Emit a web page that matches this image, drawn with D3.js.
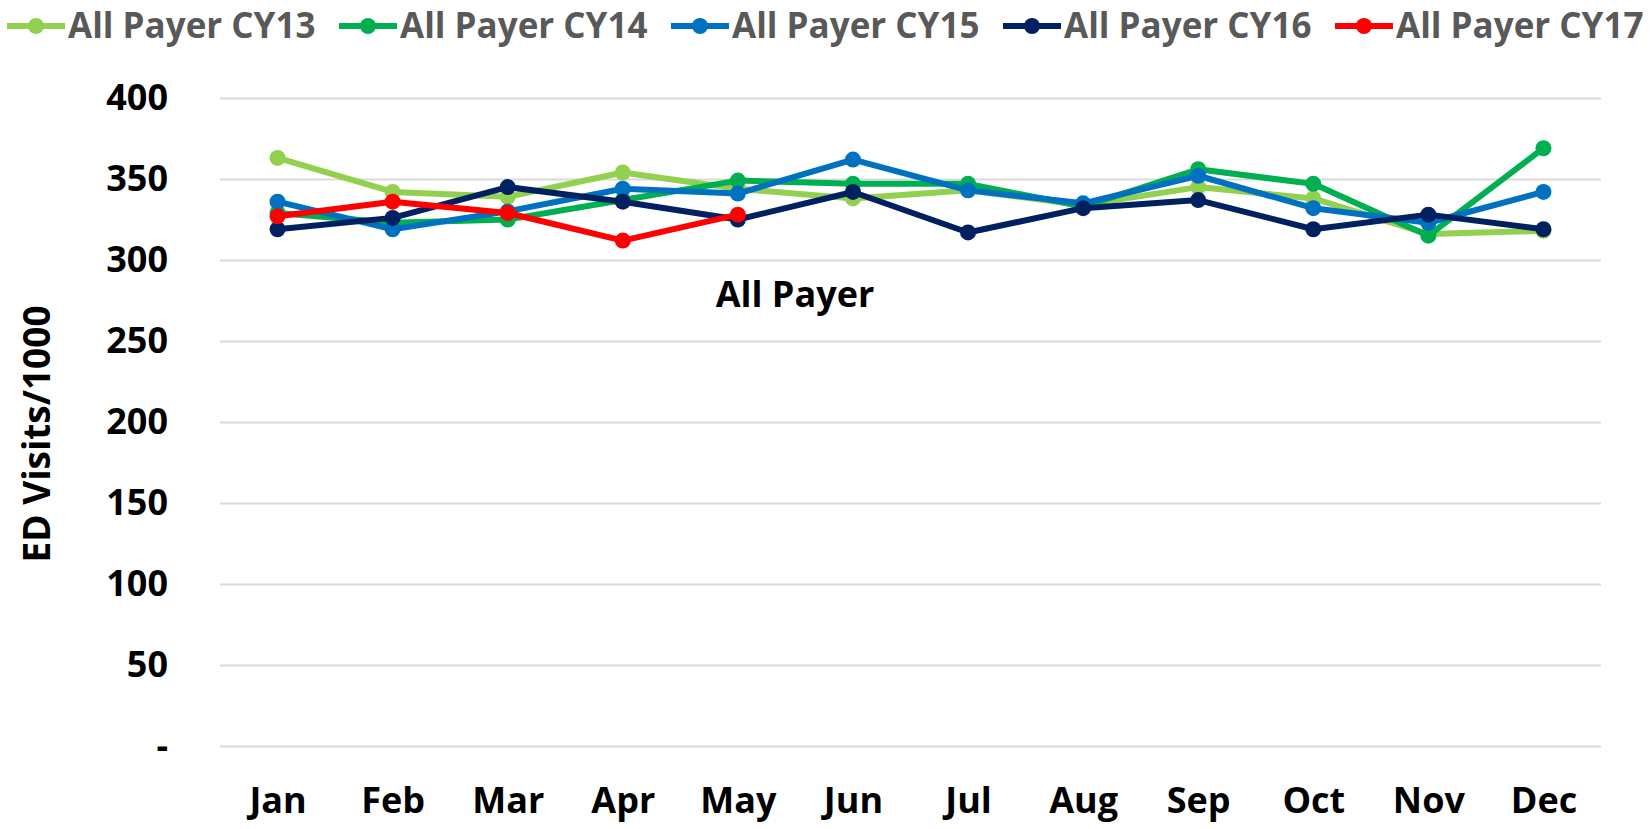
<!DOCTYPE html>
<html>
<head>
<meta charset="utf-8">
<script src="https://cdn.jsdelivr.net/npm/d3@7"></script>
<style>
  body { margin: 0; background: #fff; }
  svg text { font-family: "Open Sans", "Liberation Sans", Arial, sans-serif; font-weight: bold; }
</style>
</head>
<body>
<svg id="chart" width="1652" height="829"></svg>
<script>
// data
var months = ["Jan", "Feb", "Mar", "Apr", "May", "Jun", "Jul", "Aug", "Sep", "Oct", "Nov", "Dec"];
var cy13 = [363, 342, 339, 354, 344, 338, 343, 334, 345, 338, 316, 318];
var cy14 = [329, 323, 325, 337, 349, 347, 347, 333, 356, 347, 315, 369];
var cy15 = [336, 319, 330, 344, 341, 362, 343, 335, 352, 332, 323, 342];
var cy16 = [319, 326, 345, 336, 325, 342, 317, 332, 337, 319, 328, 319];
var cy17 = [327, 336, 329, 312, 328];
var seriesNames = ["All Payer CY13", "All Payer CY14", "All Payer CY15", "All Payer CY16", "All Payer CY17"];
var seriesColors = ["#92D050", "#00B050", "#0070C0", "#002060", "#FF0000"];
var yTicks = [0, 50, 100, 150, 200, 250, 300, 350, 400];

var allSeries = [cy13, cy14, cy15, cy16, cy17];

var margin = {top: 98, right: 51, bottom: 83, left: 220},
    width = 1652 - margin.left - margin.right,
    height = 829 - margin.top - margin.bottom;

var svg = d3.select("#chart")
    .append("g")
    .attr("transform", "translate(" + margin.left + "," + margin.top + ")");

var x = d3.scalePoint().domain(months).range([0, width]).padding(0.5);
var y = d3.scaleLinear().domain([0, 400]).range([height, 0]);

// 格線
var yAxis = d3.axisLeft(y).tickValues(yTicks).tickSize(-width).tickPadding(52)
    .tickFormat(function(d) { return d === 0 ? "-" : d; });

var gy = svg.append("g").attr("class", "y axis").call(yAxis);
gy.select(".domain").remove();
gy.selectAll(".tick line").attr("stroke", "#d9d9d9").attr("stroke-width", 2);
gy.selectAll(".tick text")
    .attr("fill", "#000")
    .style("font-size", "36px");

var xAxis = d3.axisBottom(x).tickSize(0).tickPadding(41);
var gx = svg.append("g").attr("class", "x axis")
    .attr("transform", "translate(0," + height + ")")
    .call(xAxis);
gx.select(".domain").remove();
gx.selectAll(".tick text").attr("fill", "#000").style("font-size", "36px");

var line = d3.line()
    .x(function(d, i) { return x(months[i]); })
    .y(function(d) { return y(d); });

allSeries.forEach(function(vals, s) {
    svg.append("path")
        .datum(vals)
        .attr("fill", "none")
        .attr("stroke", seriesColors[s])
        .attr("stroke-width", 6)
        .attr("stroke-linejoin", "round")
        .attr("d", line);
    svg.selectAll(".dot.s" + s)
        .data(vals)
        .enter().append("circle")
        .attr("class", "dot s" + s)
        .attr("r", 8)
        .attr("cx", function(d, i) { return x(months[i]); })
        .attr("cy", function(d) { return y(d); })
        .attr("fill", seriesColors[s]);
});

// 圖內標題
svg.append("text")
    .attr("x", 795 - margin.left)
    .attr("y", 307 - margin.top)
    .attr("text-anchor", "middle")
    .style("font-size", "36px")
    .text("All Payer");

// y 軸標題
d3.select("#chart").append("text")
    .attr("transform", "translate(37,434) rotate(-90)")
    .attr("dy", "0.35em")
    .attr("text-anchor", "middle")
    .style("font-size", "37px")
    .text("ED Visits/1000");

// legend
var legend = d3.select("#chart").selectAll(".lineLegend")
    .data(seriesNames)
    .enter().append("g")
    .attr("class", "lineLegend")
    .attr("transform", function(d, i) { return "translate(" + (7 + i * 332) + ",26)"; });

legend.append("line")
    .attr("x1", 0).attr("x2", 58)
    .attr("stroke", function(d, i) { return seriesColors[i]; })
    .attr("stroke-width", 6);
legend.append("circle")
    .attr("cx", 29).attr("r", 8)
    .attr("fill", function(d, i) { return seriesColors[i]; });
legend.append("text")
    .attr("x", 61)
    .attr("dy", "0.35em")
    .attr("fill", "#595959")
    .style("font-size", "35px")
    .text(function(d) { return d; });
</script>
</body>
</html>
